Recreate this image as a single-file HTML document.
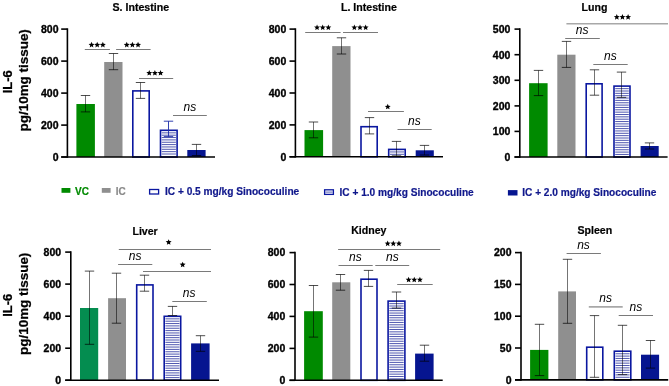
<!DOCTYPE html>
<html><head><meta charset="utf-8"><style>
html,body{margin:0;padding:0;background:#fff;}
body{width:669px;height:386px;overflow:hidden;}
svg{display:block;font-family:"Liberation Sans", sans-serif;will-change:transform;}
</style></head><body>
<svg width="669" height="386" viewBox="0 0 669 386">
<rect x="76.40" y="104.00" width="18.50" height="53.00" fill="#008a00"/>
<rect x="104.20" y="62.00" width="18.30" height="95.00" fill="#8f8f8f"/>
<rect x="132.80" y="90.90" width="16.40" height="66.10" fill="#fff" stroke="#0a17a0" stroke-width="1.6"/>
<rect x="160.50" y="130.30" width="16.60" height="26.70" fill="#fff" stroke="#0a17a0" stroke-width="1.6"/>
<line x1="161.7" y1="132.85" x2="175.9" y2="132.85" stroke="#5058b0" stroke-width="1.0" />
<line x1="161.7" y1="135.2" x2="175.9" y2="135.2" stroke="#5058b0" stroke-width="1.0" />
<line x1="161.7" y1="137.55" x2="175.9" y2="137.55" stroke="#5058b0" stroke-width="1.0" />
<line x1="161.7" y1="139.9" x2="175.9" y2="139.9" stroke="#5058b0" stroke-width="1.0" />
<line x1="161.7" y1="142.25" x2="175.9" y2="142.25" stroke="#5058b0" stroke-width="1.0" />
<line x1="161.7" y1="144.6" x2="175.9" y2="144.6" stroke="#5058b0" stroke-width="1.0" />
<line x1="161.7" y1="146.95" x2="175.9" y2="146.95" stroke="#5058b0" stroke-width="1.0" />
<line x1="161.7" y1="149.3" x2="175.9" y2="149.3" stroke="#5058b0" stroke-width="1.0" />
<line x1="161.7" y1="151.65" x2="175.9" y2="151.65" stroke="#5058b0" stroke-width="1.0" />
<line x1="161.7" y1="154.0" x2="175.9" y2="154.0" stroke="#5058b0" stroke-width="1.0" />
<rect x="187.30" y="150.00" width="18.30" height="7.00" fill="#061590"/>
<line x1="85.5" y1="95.5" x2="85.5" y2="111.9" stroke="#000" stroke-width="0.55" />
<line x1="80.8" y1="95.5" x2="90.2" y2="95.5" stroke="#000" stroke-width="0.7" />
<line x1="80.8" y1="111.9" x2="90.2" y2="111.9" stroke="#000" stroke-width="0.7" />
<line x1="113.5" y1="53.5" x2="113.5" y2="69.7" stroke="#000" stroke-width="0.55" />
<line x1="108.8" y1="53.5" x2="118.2" y2="53.5" stroke="#000" stroke-width="0.7" />
<line x1="108.8" y1="69.7" x2="118.2" y2="69.7" stroke="#000" stroke-width="0.7" />
<line x1="140.5" y1="82.5" x2="140.5" y2="98.4" stroke="#000" stroke-width="0.55" />
<line x1="135.8" y1="82.5" x2="145.2" y2="82.5" stroke="#000" stroke-width="0.7" />
<line x1="135.8" y1="98.4" x2="145.2" y2="98.4" stroke="#000" stroke-width="0.7" />
<line x1="168.5" y1="121.2" x2="168.5" y2="136.6" stroke="#1c2ca8" stroke-width="0.9" />
<line x1="163.8" y1="121.2" x2="173.2" y2="121.2" stroke="#1c2ca8" stroke-width="0.9" />
<line x1="163.8" y1="136.6" x2="173.2" y2="136.6" stroke="#1c2ca8" stroke-width="0.9" />
<line x1="196.5" y1="144.4" x2="196.5" y2="155.5" stroke="#000" stroke-width="0.55" />
<line x1="191.8" y1="144.4" x2="201.2" y2="144.4" stroke="#000" stroke-width="0.7" />
<line x1="191.8" y1="155.5" x2="201.2" y2="155.5" stroke="#000" stroke-width="0.7" />
<line x1="67.4" y1="28.3" x2="67.4" y2="157.8" stroke="#000" stroke-width="1.6" />
<line x1="61.2" y1="157.0" x2="215.0" y2="157.0" stroke="#000" stroke-width="1.6" />
<line x1="61.2" y1="29.1" x2="67.4" y2="29.1" stroke="#000" stroke-width="1.6" />
<text x="58.50000000000001" y="32.9" font-size="10.5" font-weight="bold" font-style="normal" text-anchor="end" fill="#000" stroke="#000" stroke-width="0.35">800</text>
<line x1="61.2" y1="61.1" x2="67.4" y2="61.1" stroke="#000" stroke-width="1.6" />
<text x="58.50000000000001" y="64.9" font-size="10.5" font-weight="bold" font-style="normal" text-anchor="end" fill="#000" stroke="#000" stroke-width="0.35">600</text>
<line x1="61.2" y1="93.1" x2="67.4" y2="93.1" stroke="#000" stroke-width="1.6" />
<text x="58.50000000000001" y="96.89999999999999" font-size="10.5" font-weight="bold" font-style="normal" text-anchor="end" fill="#000" stroke="#000" stroke-width="0.35">400</text>
<line x1="61.2" y1="125.1" x2="67.4" y2="125.1" stroke="#000" stroke-width="1.6" />
<text x="58.50000000000001" y="128.9" font-size="10.5" font-weight="bold" font-style="normal" text-anchor="end" fill="#000" stroke="#000" stroke-width="0.35">200</text>
<line x1="61.2" y1="157.0" x2="67.4" y2="157.0" stroke="#000" stroke-width="1.6" />
<text x="58.50000000000001" y="160.8" font-size="10.5" font-weight="bold" font-style="normal" text-anchor="end" fill="#000" stroke="#000" stroke-width="0.35">0</text>
<line x1="84.8" y1="49.5" x2="109.9" y2="49.5" stroke="#7a7a7a" stroke-width="1" />
<polygon points="91.55,41.85 92.37,43.82 94.50,43.99 92.88,45.38 93.37,47.46 91.55,46.35 89.73,47.46 90.22,45.38 88.60,43.99 90.73,43.82" fill="#000"/>
<polygon points="97.20,41.85 98.02,43.82 100.15,43.99 98.53,45.38 99.02,47.46 97.20,46.35 95.38,47.46 95.87,45.38 94.25,43.99 96.38,43.82" fill="#000"/>
<polygon points="102.85,41.85 103.67,43.82 105.80,43.99 104.18,45.38 104.67,47.46 102.85,46.35 101.03,47.46 101.52,45.38 99.90,43.99 102.03,43.82" fill="#000"/>
<line x1="116.1" y1="49.5" x2="150.6" y2="49.5" stroke="#7a7a7a" stroke-width="1" />
<polygon points="126.75,41.85 127.57,43.82 129.70,43.99 128.08,45.38 128.57,47.46 126.75,46.35 124.93,47.46 125.42,45.38 123.80,43.99 125.93,43.82" fill="#000"/>
<polygon points="132.40,41.85 133.22,43.82 135.35,43.99 133.73,45.38 134.22,47.46 132.40,46.35 130.58,47.46 131.07,45.38 129.45,43.99 131.58,43.82" fill="#000"/>
<polygon points="138.05,41.85 138.87,43.82 141.00,43.99 139.38,45.38 139.87,47.46 138.05,46.35 136.23,47.46 136.72,45.38 135.10,43.99 137.23,43.82" fill="#000"/>
<line x1="139.0" y1="78.5" x2="173.2" y2="78.5" stroke="#7a7a7a" stroke-width="1" />
<polygon points="149.25,69.95 150.07,71.92 152.20,72.09 150.58,73.48 151.07,75.56 149.25,74.45 147.43,75.56 147.92,73.48 146.30,72.09 148.43,71.92" fill="#000"/>
<polygon points="154.90,69.95 155.72,71.92 157.85,72.09 156.23,73.48 156.72,75.56 154.90,74.45 153.08,75.56 153.57,73.48 151.95,72.09 154.08,71.92" fill="#000"/>
<polygon points="160.55,69.95 161.37,71.92 163.50,72.09 161.88,73.48 162.37,75.56 160.55,74.45 158.73,75.56 159.22,73.48 157.60,72.09 159.73,71.92" fill="#000"/>
<line x1="173.0" y1="115.5" x2="206.8" y2="115.5" stroke="#7a7a7a" stroke-width="1" />
<text x="189.8" y="111.2" font-size="12" font-weight="normal" font-style="italic" text-anchor="middle" fill="#000" >ns</text>
<text x="140.8" y="11.2" font-size="10.6" font-weight="bold" font-style="normal" text-anchor="middle" fill="#000" stroke="#000" stroke-width="0.2">S. Intestine</text>
<rect x="304.50" y="130.10" width="18.60" height="26.70" fill="#008a00"/>
<rect x="332.20" y="46.10" width="18.30" height="110.70" fill="#8f8f8f"/>
<rect x="361.00" y="126.70" width="16.20" height="30.10" fill="#fff" stroke="#0a17a0" stroke-width="1.6"/>
<rect x="388.70" y="149.40" width="16.50" height="7.40" fill="#fff" stroke="#0a17a0" stroke-width="1.6"/>
<line x1="389.9" y1="151.95" x2="404.0" y2="151.95" stroke="#5058b0" stroke-width="1.0" />
<line x1="389.9" y1="154.3" x2="404.0" y2="154.3" stroke="#5058b0" stroke-width="1.0" />
<rect x="415.70" y="150.30" width="18.10" height="6.50" fill="#061590"/>
<line x1="313.5" y1="122.0" x2="313.5" y2="137.8" stroke="#000" stroke-width="0.55" />
<line x1="308.8" y1="122.0" x2="318.2" y2="122.0" stroke="#000" stroke-width="0.7" />
<line x1="308.8" y1="137.8" x2="318.2" y2="137.8" stroke="#000" stroke-width="0.7" />
<line x1="341.5" y1="37.8" x2="341.5" y2="54.0" stroke="#000" stroke-width="0.55" />
<line x1="336.8" y1="37.8" x2="346.2" y2="37.8" stroke="#000" stroke-width="0.7" />
<line x1="336.8" y1="54.0" x2="346.2" y2="54.0" stroke="#000" stroke-width="0.7" />
<line x1="369.5" y1="117.6" x2="369.5" y2="133.9" stroke="#000" stroke-width="0.55" />
<line x1="364.8" y1="117.6" x2="374.2" y2="117.6" stroke="#000" stroke-width="0.7" />
<line x1="364.8" y1="133.9" x2="374.2" y2="133.9" stroke="#000" stroke-width="0.7" />
<line x1="396.5" y1="141.4" x2="396.5" y2="155.8" stroke="#000" stroke-width="0.55" />
<line x1="391.8" y1="141.4" x2="401.2" y2="141.4" stroke="#000" stroke-width="0.7" />
<line x1="391.8" y1="155.8" x2="401.2" y2="155.8" stroke="#000" stroke-width="0.7" />
<line x1="424.5" y1="145.4" x2="424.5" y2="155.0" stroke="#000" stroke-width="0.55" />
<line x1="419.8" y1="145.4" x2="429.2" y2="145.4" stroke="#000" stroke-width="0.7" />
<line x1="419.8" y1="155.0" x2="429.2" y2="155.0" stroke="#000" stroke-width="0.7" />
<line x1="295.4" y1="28.3" x2="295.4" y2="157.60000000000002" stroke="#000" stroke-width="1.6" />
<line x1="289.5" y1="156.8" x2="443.0" y2="156.8" stroke="#000" stroke-width="1.6" />
<line x1="289.5" y1="29.1" x2="295.4" y2="29.1" stroke="#000" stroke-width="1.6" />
<text x="286.29999999999995" y="32.9" font-size="10.5" font-weight="bold" font-style="normal" text-anchor="end" fill="#000" stroke="#000" stroke-width="0.35">800</text>
<line x1="289.5" y1="61.1" x2="295.4" y2="61.1" stroke="#000" stroke-width="1.6" />
<text x="286.29999999999995" y="64.9" font-size="10.5" font-weight="bold" font-style="normal" text-anchor="end" fill="#000" stroke="#000" stroke-width="0.35">600</text>
<line x1="289.5" y1="93.0" x2="295.4" y2="93.0" stroke="#000" stroke-width="1.6" />
<text x="286.29999999999995" y="96.8" font-size="10.5" font-weight="bold" font-style="normal" text-anchor="end" fill="#000" stroke="#000" stroke-width="0.35">400</text>
<line x1="289.5" y1="124.9" x2="295.4" y2="124.9" stroke="#000" stroke-width="1.6" />
<text x="286.29999999999995" y="128.70000000000002" font-size="10.5" font-weight="bold" font-style="normal" text-anchor="end" fill="#000" stroke="#000" stroke-width="0.35">200</text>
<line x1="289.5" y1="156.8" x2="295.4" y2="156.8" stroke="#000" stroke-width="1.6" />
<text x="286.29999999999995" y="160.60000000000002" font-size="10.5" font-weight="bold" font-style="normal" text-anchor="end" fill="#000" stroke="#000" stroke-width="0.35">0</text>
<line x1="305.2" y1="32.5" x2="340.6" y2="32.5" stroke="#7a7a7a" stroke-width="1" />
<polygon points="317.05,24.45 317.87,26.42 320.00,26.59 318.38,27.98 318.87,30.06 317.05,28.95 315.23,30.06 315.72,27.98 314.10,26.59 316.23,26.42" fill="#000"/>
<polygon points="322.70,24.45 323.52,26.42 325.65,26.59 324.03,27.98 324.52,30.06 322.70,28.95 320.88,30.06 321.37,27.98 319.75,26.59 321.88,26.42" fill="#000"/>
<polygon points="328.35,24.45 329.17,26.42 331.30,26.59 329.68,27.98 330.17,30.06 328.35,28.95 326.53,30.06 327.02,27.98 325.40,26.59 327.53,26.42" fill="#000"/>
<line x1="343.0" y1="32.5" x2="378.0" y2="32.5" stroke="#7a7a7a" stroke-width="1" />
<polygon points="354.35,24.45 355.17,26.42 357.30,26.59 355.68,27.98 356.17,30.06 354.35,28.95 352.53,30.06 353.02,27.98 351.40,26.59 353.53,26.42" fill="#000"/>
<polygon points="360.00,24.45 360.82,26.42 362.95,26.59 361.33,27.98 361.82,30.06 360.00,28.95 358.18,30.06 358.67,27.98 357.05,26.59 359.18,26.42" fill="#000"/>
<polygon points="365.65,24.45 366.47,26.42 368.60,26.59 366.98,27.98 367.47,30.06 365.65,28.95 363.83,30.06 364.32,27.98 362.70,26.59 364.83,26.42" fill="#000"/>
<line x1="368.0" y1="111.5" x2="403.9" y2="111.5" stroke="#7a7a7a" stroke-width="1" />
<polygon points="387.75,103.75 388.57,105.72 390.70,105.89 389.08,107.28 389.57,109.36 387.75,108.25 385.93,109.36 386.42,107.28 384.80,105.89 386.93,105.72" fill="#000"/>
<line x1="397.5" y1="129.5" x2="431.7" y2="129.5" stroke="#7a7a7a" stroke-width="1" />
<text x="414.3" y="124.8" font-size="12" font-weight="normal" font-style="italic" text-anchor="middle" fill="#000" >ns</text>
<text x="368.9" y="11.0" font-size="10.6" font-weight="bold" font-style="normal" text-anchor="middle" fill="#000" stroke="#000" stroke-width="0.2">L. Intestine</text>
<rect x="529.10" y="83.20" width="18.50" height="73.80" fill="#008a00"/>
<rect x="557.30" y="54.70" width="18.20" height="102.30" fill="#8f8f8f"/>
<rect x="586.20" y="83.80" width="15.90" height="73.20" fill="#fff" stroke="#0a17a0" stroke-width="1.6"/>
<rect x="614.00" y="86.10" width="16.00" height="70.90" fill="#fff" stroke="#0a17a0" stroke-width="1.6"/>
<line x1="615.2" y1="88.65" x2="628.8" y2="88.65" stroke="#5058b0" stroke-width="1.0" />
<line x1="615.2" y1="91.0" x2="628.8" y2="91.0" stroke="#5058b0" stroke-width="1.0" />
<line x1="615.2" y1="93.35" x2="628.8" y2="93.35" stroke="#5058b0" stroke-width="1.0" />
<line x1="615.2" y1="95.7" x2="628.8" y2="95.7" stroke="#5058b0" stroke-width="1.0" />
<line x1="615.2" y1="98.05" x2="628.8" y2="98.05" stroke="#5058b0" stroke-width="1.0" />
<line x1="615.2" y1="100.4" x2="628.8" y2="100.4" stroke="#5058b0" stroke-width="1.0" />
<line x1="615.2" y1="102.75" x2="628.8" y2="102.75" stroke="#5058b0" stroke-width="1.0" />
<line x1="615.2" y1="105.1" x2="628.8" y2="105.1" stroke="#5058b0" stroke-width="1.0" />
<line x1="615.2" y1="107.45" x2="628.8" y2="107.45" stroke="#5058b0" stroke-width="1.0" />
<line x1="615.2" y1="109.8" x2="628.8" y2="109.8" stroke="#5058b0" stroke-width="1.0" />
<line x1="615.2" y1="112.15" x2="628.8" y2="112.15" stroke="#5058b0" stroke-width="1.0" />
<line x1="615.2" y1="114.5" x2="628.8" y2="114.5" stroke="#5058b0" stroke-width="1.0" />
<line x1="615.2" y1="116.85" x2="628.8" y2="116.85" stroke="#5058b0" stroke-width="1.0" />
<line x1="615.2" y1="119.2" x2="628.8" y2="119.2" stroke="#5058b0" stroke-width="1.0" />
<line x1="615.2" y1="121.55" x2="628.8" y2="121.55" stroke="#5058b0" stroke-width="1.0" />
<line x1="615.2" y1="123.9" x2="628.8" y2="123.9" stroke="#5058b0" stroke-width="1.0" />
<line x1="615.2" y1="126.25" x2="628.8" y2="126.25" stroke="#5058b0" stroke-width="1.0" />
<line x1="615.2" y1="128.6" x2="628.8" y2="128.6" stroke="#5058b0" stroke-width="1.0" />
<line x1="615.2" y1="130.95" x2="628.8" y2="130.95" stroke="#5058b0" stroke-width="1.0" />
<line x1="615.2" y1="133.3" x2="628.8" y2="133.3" stroke="#5058b0" stroke-width="1.0" />
<line x1="615.2" y1="135.65" x2="628.8" y2="135.65" stroke="#5058b0" stroke-width="1.0" />
<line x1="615.2" y1="138.0" x2="628.8" y2="138.0" stroke="#5058b0" stroke-width="1.0" />
<line x1="615.2" y1="140.35" x2="628.8" y2="140.35" stroke="#5058b0" stroke-width="1.0" />
<line x1="615.2" y1="142.7" x2="628.8" y2="142.7" stroke="#5058b0" stroke-width="1.0" />
<line x1="615.2" y1="145.05" x2="628.8" y2="145.05" stroke="#5058b0" stroke-width="1.0" />
<line x1="615.2" y1="147.4" x2="628.8" y2="147.4" stroke="#5058b0" stroke-width="1.0" />
<line x1="615.2" y1="149.75" x2="628.8" y2="149.75" stroke="#5058b0" stroke-width="1.0" />
<line x1="615.2" y1="152.1" x2="628.8" y2="152.1" stroke="#5058b0" stroke-width="1.0" />
<line x1="615.2" y1="154.45" x2="628.8" y2="154.45" stroke="#5058b0" stroke-width="1.0" />
<rect x="640.60" y="146.00" width="18.10" height="11.00" fill="#061590"/>
<line x1="538.5" y1="70.4" x2="538.5" y2="95.6" stroke="#000" stroke-width="0.55" />
<line x1="533.8" y1="70.4" x2="543.2" y2="70.4" stroke="#000" stroke-width="0.7" />
<line x1="533.8" y1="95.6" x2="543.2" y2="95.6" stroke="#000" stroke-width="0.7" />
<line x1="566.5" y1="41.4" x2="566.5" y2="67.4" stroke="#000" stroke-width="0.55" />
<line x1="561.8" y1="41.4" x2="571.2" y2="41.4" stroke="#000" stroke-width="0.7" />
<line x1="561.8" y1="67.4" x2="571.2" y2="67.4" stroke="#000" stroke-width="0.7" />
<line x1="594.5" y1="69.8" x2="594.5" y2="95.2" stroke="#000" stroke-width="0.55" />
<line x1="589.8" y1="69.8" x2="599.2" y2="69.8" stroke="#000" stroke-width="0.7" />
<line x1="589.8" y1="95.2" x2="599.2" y2="95.2" stroke="#000" stroke-width="0.7" />
<line x1="621.5" y1="72.1" x2="621.5" y2="97.4" stroke="#000" stroke-width="0.55" />
<line x1="616.8" y1="72.1" x2="626.2" y2="72.1" stroke="#000" stroke-width="0.7" />
<line x1="616.8" y1="97.4" x2="626.2" y2="97.4" stroke="#000" stroke-width="0.7" />
<line x1="649.5" y1="142.9" x2="649.5" y2="149.0" stroke="#000" stroke-width="0.55" />
<line x1="644.8" y1="142.9" x2="654.2" y2="142.9" stroke="#000" stroke-width="0.7" />
<line x1="644.8" y1="149.0" x2="654.2" y2="149.0" stroke="#000" stroke-width="0.7" />
<line x1="519.8" y1="28.3" x2="519.8" y2="157.8" stroke="#000" stroke-width="1.6" />
<line x1="514.5" y1="157.0" x2="667.6" y2="157.0" stroke="#000" stroke-width="1.6" />
<line x1="514.5" y1="29.1" x2="519.8" y2="29.1" stroke="#000" stroke-width="1.6" />
<text x="510.4" y="32.9" font-size="10.5" font-weight="bold" font-style="normal" text-anchor="end" fill="#000" stroke="#000" stroke-width="0.35">500</text>
<line x1="514.5" y1="54.7" x2="519.8" y2="54.7" stroke="#000" stroke-width="1.6" />
<text x="510.4" y="58.5" font-size="10.5" font-weight="bold" font-style="normal" text-anchor="end" fill="#000" stroke="#000" stroke-width="0.35">400</text>
<line x1="514.5" y1="80.3" x2="519.8" y2="80.3" stroke="#000" stroke-width="1.6" />
<text x="510.4" y="84.1" font-size="10.5" font-weight="bold" font-style="normal" text-anchor="end" fill="#000" stroke="#000" stroke-width="0.35">300</text>
<line x1="514.5" y1="105.9" x2="519.8" y2="105.9" stroke="#000" stroke-width="1.6" />
<text x="510.4" y="109.7" font-size="10.5" font-weight="bold" font-style="normal" text-anchor="end" fill="#000" stroke="#000" stroke-width="0.35">200</text>
<line x1="514.5" y1="131.4" x2="519.8" y2="131.4" stroke="#000" stroke-width="1.6" />
<text x="510.4" y="135.20000000000002" font-size="10.5" font-weight="bold" font-style="normal" text-anchor="end" fill="#000" stroke="#000" stroke-width="0.35">100</text>
<line x1="514.5" y1="157.0" x2="519.8" y2="157.0" stroke="#000" stroke-width="1.6" />
<text x="510.4" y="160.8" font-size="10.5" font-weight="bold" font-style="normal" text-anchor="end" fill="#000" stroke="#000" stroke-width="0.35">0</text>
<line x1="566.4" y1="23.8" x2="668.0" y2="23.8" stroke="#a8a8a8" stroke-width="1.6" />
<polygon points="616.80,14.05 617.62,16.02 619.75,16.19 618.13,17.58 618.62,19.66 616.80,18.55 614.98,19.66 615.47,17.58 613.85,16.19 615.98,16.02" fill="#000"/>
<polygon points="622.45,14.05 623.27,16.02 625.40,16.19 623.78,17.58 624.27,19.66 622.45,18.55 620.63,19.66 621.12,17.58 619.50,16.19 621.63,16.02" fill="#000"/>
<polygon points="628.10,14.05 628.92,16.02 631.05,16.19 629.43,17.58 629.92,19.66 628.10,18.55 626.28,19.66 626.77,17.58 625.15,16.19 627.28,16.02" fill="#000"/>
<line x1="565.2" y1="38.5" x2="599.8" y2="38.5" stroke="#7a7a7a" stroke-width="1" />
<text x="582.1" y="34.4" font-size="12" font-weight="normal" font-style="italic" text-anchor="middle" fill="#000" >ns</text>
<line x1="593.3" y1="64.5" x2="627.7" y2="64.5" stroke="#7a7a7a" stroke-width="1" />
<text x="610.3" y="60.1" font-size="12" font-weight="normal" font-style="italic" text-anchor="middle" fill="#000" >ns</text>
<text x="594.5" y="10.9" font-size="10.6" font-weight="bold" font-style="normal" text-anchor="middle" fill="#000" stroke="#000" stroke-width="0.2">Lung</text>
<rect x="80.00" y="308.00" width="18.20" height="72.20" fill="#048d50"/>
<rect x="108.10" y="298.20" width="17.90" height="82.00" fill="#8f8f8f"/>
<rect x="136.70" y="284.90" width="16.30" height="95.30" fill="#fff" stroke="#0a17a0" stroke-width="1.6"/>
<rect x="164.20" y="316.30" width="16.50" height="63.90" fill="#fff" stroke="#0a17a0" stroke-width="1.6"/>
<line x1="165.4" y1="318.85" x2="179.5" y2="318.85" stroke="#5058b0" stroke-width="1.0" />
<line x1="165.4" y1="321.2" x2="179.5" y2="321.2" stroke="#5058b0" stroke-width="1.0" />
<line x1="165.4" y1="323.55" x2="179.5" y2="323.55" stroke="#5058b0" stroke-width="1.0" />
<line x1="165.4" y1="325.9" x2="179.5" y2="325.9" stroke="#5058b0" stroke-width="1.0" />
<line x1="165.4" y1="328.25" x2="179.5" y2="328.25" stroke="#5058b0" stroke-width="1.0" />
<line x1="165.4" y1="330.6" x2="179.5" y2="330.6" stroke="#5058b0" stroke-width="1.0" />
<line x1="165.4" y1="332.95" x2="179.5" y2="332.95" stroke="#5058b0" stroke-width="1.0" />
<line x1="165.4" y1="335.3" x2="179.5" y2="335.3" stroke="#5058b0" stroke-width="1.0" />
<line x1="165.4" y1="337.65" x2="179.5" y2="337.65" stroke="#5058b0" stroke-width="1.0" />
<line x1="165.4" y1="340.0" x2="179.5" y2="340.0" stroke="#5058b0" stroke-width="1.0" />
<line x1="165.4" y1="342.35" x2="179.5" y2="342.35" stroke="#5058b0" stroke-width="1.0" />
<line x1="165.4" y1="344.7" x2="179.5" y2="344.7" stroke="#5058b0" stroke-width="1.0" />
<line x1="165.4" y1="347.05" x2="179.5" y2="347.05" stroke="#5058b0" stroke-width="1.0" />
<line x1="165.4" y1="349.4" x2="179.5" y2="349.4" stroke="#5058b0" stroke-width="1.0" />
<line x1="165.4" y1="351.75" x2="179.5" y2="351.75" stroke="#5058b0" stroke-width="1.0" />
<line x1="165.4" y1="354.1" x2="179.5" y2="354.1" stroke="#5058b0" stroke-width="1.0" />
<line x1="165.4" y1="356.45" x2="179.5" y2="356.45" stroke="#5058b0" stroke-width="1.0" />
<line x1="165.4" y1="358.8" x2="179.5" y2="358.8" stroke="#5058b0" stroke-width="1.0" />
<line x1="165.4" y1="361.15" x2="179.5" y2="361.15" stroke="#5058b0" stroke-width="1.0" />
<line x1="165.4" y1="363.5" x2="179.5" y2="363.5" stroke="#5058b0" stroke-width="1.0" />
<line x1="165.4" y1="365.85" x2="179.5" y2="365.85" stroke="#5058b0" stroke-width="1.0" />
<line x1="165.4" y1="368.2" x2="179.5" y2="368.2" stroke="#5058b0" stroke-width="1.0" />
<line x1="165.4" y1="370.55" x2="179.5" y2="370.55" stroke="#5058b0" stroke-width="1.0" />
<line x1="165.4" y1="372.9" x2="179.5" y2="372.9" stroke="#5058b0" stroke-width="1.0" />
<line x1="165.4" y1="375.25" x2="179.5" y2="375.25" stroke="#5058b0" stroke-width="1.0" />
<line x1="165.4" y1="377.6" x2="179.5" y2="377.6" stroke="#5058b0" stroke-width="1.0" />
<rect x="191.10" y="343.40" width="18.50" height="36.80" fill="#061590"/>
<line x1="89.5" y1="271.1" x2="89.5" y2="344.3" stroke="#000" stroke-width="0.55" />
<line x1="84.8" y1="271.1" x2="94.2" y2="271.1" stroke="#000" stroke-width="0.7" />
<line x1="84.8" y1="344.3" x2="94.2" y2="344.3" stroke="#000" stroke-width="0.7" />
<line x1="116.5" y1="273.2" x2="116.5" y2="323.2" stroke="#000" stroke-width="0.55" />
<line x1="111.8" y1="273.2" x2="121.2" y2="273.2" stroke="#000" stroke-width="0.7" />
<line x1="111.8" y1="323.2" x2="121.2" y2="323.2" stroke="#000" stroke-width="0.7" />
<line x1="144.5" y1="275.2" x2="144.5" y2="291.2" stroke="#000" stroke-width="0.55" />
<line x1="139.8" y1="275.2" x2="149.2" y2="275.2" stroke="#000" stroke-width="0.7" />
<line x1="139.8" y1="291.2" x2="149.2" y2="291.2" stroke="#000" stroke-width="0.7" />
<line x1="172.5" y1="306.4" x2="172.5" y2="315.5" stroke="#000" stroke-width="0.55" />
<line x1="167.8" y1="306.4" x2="177.2" y2="306.4" stroke="#000" stroke-width="0.7" />
<line x1="167.8" y1="315.5" x2="177.2" y2="315.5" stroke="#000" stroke-width="0.7" />
<line x1="200.5" y1="335.7" x2="200.5" y2="351.3" stroke="#000" stroke-width="0.55" />
<line x1="195.8" y1="335.7" x2="205.2" y2="335.7" stroke="#000" stroke-width="0.7" />
<line x1="195.8" y1="351.3" x2="205.2" y2="351.3" stroke="#000" stroke-width="0.7" />
<line x1="70.8" y1="251.3" x2="70.8" y2="381.0" stroke="#000" stroke-width="1.6" />
<line x1="65.2" y1="380.2" x2="219.0" y2="380.2" stroke="#000" stroke-width="1.6" />
<line x1="65.2" y1="252.1" x2="70.8" y2="252.1" stroke="#000" stroke-width="1.6" />
<text x="61.099999999999994" y="255.9" font-size="10.5" font-weight="bold" font-style="normal" text-anchor="end" fill="#000" stroke="#000" stroke-width="0.35">800</text>
<line x1="65.2" y1="284.1" x2="70.8" y2="284.1" stroke="#000" stroke-width="1.6" />
<text x="61.099999999999994" y="287.90000000000003" font-size="10.5" font-weight="bold" font-style="normal" text-anchor="end" fill="#000" stroke="#000" stroke-width="0.35">600</text>
<line x1="65.2" y1="316.2" x2="70.8" y2="316.2" stroke="#000" stroke-width="1.6" />
<text x="61.099999999999994" y="320.0" font-size="10.5" font-weight="bold" font-style="normal" text-anchor="end" fill="#000" stroke="#000" stroke-width="0.35">400</text>
<line x1="65.2" y1="348.2" x2="70.8" y2="348.2" stroke="#000" stroke-width="1.6" />
<text x="61.099999999999994" y="352.0" font-size="10.5" font-weight="bold" font-style="normal" text-anchor="end" fill="#000" stroke="#000" stroke-width="0.35">200</text>
<line x1="65.2" y1="380.2" x2="70.8" y2="380.2" stroke="#000" stroke-width="1.6" />
<text x="61.099999999999994" y="384.0" font-size="10.5" font-weight="bold" font-style="normal" text-anchor="end" fill="#000" stroke="#000" stroke-width="0.35">0</text>
<line x1="118.8" y1="249.5" x2="211.0" y2="249.5" stroke="#7a7a7a" stroke-width="1" />
<polygon points="168.65,239.15 169.47,241.12 171.60,241.29 169.98,242.68 170.47,244.76 168.65,243.65 166.83,244.76 167.32,242.68 165.70,241.29 167.83,241.12" fill="#000"/>
<line x1="118.1" y1="264.5" x2="152.3" y2="264.5" stroke="#7a7a7a" stroke-width="1" />
<text x="135.2" y="260.4" font-size="12" font-weight="normal" font-style="italic" text-anchor="middle" fill="#000" >ns</text>
<line x1="143.0" y1="271.5" x2="211.0" y2="271.5" stroke="#7a7a7a" stroke-width="1" />
<polygon points="182.65,261.65 183.47,263.62 185.60,263.79 183.98,265.18 184.47,267.26 182.65,266.15 180.83,267.26 181.32,265.18 179.70,263.79 181.83,263.62" fill="#000"/>
<line x1="172.3" y1="301.5" x2="206.8" y2="301.5" stroke="#7a7a7a" stroke-width="1" />
<text x="189.1" y="296.9" font-size="12" font-weight="normal" font-style="italic" text-anchor="middle" fill="#000" >ns</text>
<text x="145.1" y="234.5" font-size="10.6" font-weight="bold" font-style="normal" text-anchor="middle" fill="#000" stroke="#000" stroke-width="0.2">Liver</text>
<rect x="304.10" y="311.20" width="18.70" height="69.10" fill="#008a00"/>
<rect x="332.20" y="282.30" width="18.10" height="98.00" fill="#8f8f8f"/>
<rect x="361.00" y="279.20" width="16.00" height="101.10" fill="#fff" stroke="#0a17a0" stroke-width="1.6"/>
<rect x="388.10" y="301.10" width="16.80" height="79.20" fill="#fff" stroke="#0a17a0" stroke-width="1.6"/>
<line x1="389.3" y1="303.65" x2="403.7" y2="303.65" stroke="#5058b0" stroke-width="1.0" />
<line x1="389.3" y1="306.0" x2="403.7" y2="306.0" stroke="#5058b0" stroke-width="1.0" />
<line x1="389.3" y1="308.35" x2="403.7" y2="308.35" stroke="#5058b0" stroke-width="1.0" />
<line x1="389.3" y1="310.7" x2="403.7" y2="310.7" stroke="#5058b0" stroke-width="1.0" />
<line x1="389.3" y1="313.05" x2="403.7" y2="313.05" stroke="#5058b0" stroke-width="1.0" />
<line x1="389.3" y1="315.4" x2="403.7" y2="315.4" stroke="#5058b0" stroke-width="1.0" />
<line x1="389.3" y1="317.75" x2="403.7" y2="317.75" stroke="#5058b0" stroke-width="1.0" />
<line x1="389.3" y1="320.1" x2="403.7" y2="320.1" stroke="#5058b0" stroke-width="1.0" />
<line x1="389.3" y1="322.45" x2="403.7" y2="322.45" stroke="#5058b0" stroke-width="1.0" />
<line x1="389.3" y1="324.8" x2="403.7" y2="324.8" stroke="#5058b0" stroke-width="1.0" />
<line x1="389.3" y1="327.15" x2="403.7" y2="327.15" stroke="#5058b0" stroke-width="1.0" />
<line x1="389.3" y1="329.5" x2="403.7" y2="329.5" stroke="#5058b0" stroke-width="1.0" />
<line x1="389.3" y1="331.85" x2="403.7" y2="331.85" stroke="#5058b0" stroke-width="1.0" />
<line x1="389.3" y1="334.2" x2="403.7" y2="334.2" stroke="#5058b0" stroke-width="1.0" />
<line x1="389.3" y1="336.55" x2="403.7" y2="336.55" stroke="#5058b0" stroke-width="1.0" />
<line x1="389.3" y1="338.9" x2="403.7" y2="338.9" stroke="#5058b0" stroke-width="1.0" />
<line x1="389.3" y1="341.25" x2="403.7" y2="341.25" stroke="#5058b0" stroke-width="1.0" />
<line x1="389.3" y1="343.6" x2="403.7" y2="343.6" stroke="#5058b0" stroke-width="1.0" />
<line x1="389.3" y1="345.95" x2="403.7" y2="345.95" stroke="#5058b0" stroke-width="1.0" />
<line x1="389.3" y1="348.3" x2="403.7" y2="348.3" stroke="#5058b0" stroke-width="1.0" />
<line x1="389.3" y1="350.65" x2="403.7" y2="350.65" stroke="#5058b0" stroke-width="1.0" />
<line x1="389.3" y1="353.0" x2="403.7" y2="353.0" stroke="#5058b0" stroke-width="1.0" />
<line x1="389.3" y1="355.35" x2="403.7" y2="355.35" stroke="#5058b0" stroke-width="1.0" />
<line x1="389.3" y1="357.7" x2="403.7" y2="357.7" stroke="#5058b0" stroke-width="1.0" />
<line x1="389.3" y1="360.05" x2="403.7" y2="360.05" stroke="#5058b0" stroke-width="1.0" />
<line x1="389.3" y1="362.4" x2="403.7" y2="362.4" stroke="#5058b0" stroke-width="1.0" />
<line x1="389.3" y1="364.75" x2="403.7" y2="364.75" stroke="#5058b0" stroke-width="1.0" />
<line x1="389.3" y1="367.1" x2="403.7" y2="367.1" stroke="#5058b0" stroke-width="1.0" />
<line x1="389.3" y1="369.45" x2="403.7" y2="369.45" stroke="#5058b0" stroke-width="1.0" />
<line x1="389.3" y1="371.8" x2="403.7" y2="371.8" stroke="#5058b0" stroke-width="1.0" />
<line x1="389.3" y1="374.15" x2="403.7" y2="374.15" stroke="#5058b0" stroke-width="1.0" />
<line x1="389.3" y1="376.5" x2="403.7" y2="376.5" stroke="#5058b0" stroke-width="1.0" />
<line x1="389.3" y1="378.85" x2="403.7" y2="378.85" stroke="#5058b0" stroke-width="1.0" />
<rect x="415.10" y="353.60" width="18.50" height="26.70" fill="#061590"/>
<line x1="313.5" y1="285.5" x2="313.5" y2="337.1" stroke="#000" stroke-width="0.55" />
<line x1="308.8" y1="285.5" x2="318.2" y2="285.5" stroke="#000" stroke-width="0.7" />
<line x1="308.8" y1="337.1" x2="318.2" y2="337.1" stroke="#000" stroke-width="0.7" />
<line x1="340.5" y1="274.5" x2="340.5" y2="290.2" stroke="#000" stroke-width="0.55" />
<line x1="335.8" y1="274.5" x2="345.2" y2="274.5" stroke="#000" stroke-width="0.7" />
<line x1="335.8" y1="290.2" x2="345.2" y2="290.2" stroke="#000" stroke-width="0.7" />
<line x1="368.5" y1="270.4" x2="368.5" y2="286.4" stroke="#000" stroke-width="0.55" />
<line x1="363.8" y1="270.4" x2="373.2" y2="270.4" stroke="#000" stroke-width="0.7" />
<line x1="363.8" y1="286.4" x2="373.2" y2="286.4" stroke="#000" stroke-width="0.7" />
<line x1="396.5" y1="292.0" x2="396.5" y2="308.1" stroke="#000" stroke-width="0.55" />
<line x1="391.8" y1="292.0" x2="401.2" y2="292.0" stroke="#000" stroke-width="0.7" />
<line x1="391.8" y1="308.1" x2="401.2" y2="308.1" stroke="#000" stroke-width="0.7" />
<line x1="424.5" y1="345.2" x2="424.5" y2="361.2" stroke="#000" stroke-width="0.55" />
<line x1="419.8" y1="345.2" x2="429.2" y2="345.2" stroke="#000" stroke-width="0.7" />
<line x1="419.8" y1="361.2" x2="429.2" y2="361.2" stroke="#000" stroke-width="0.7" />
<line x1="295.0" y1="251.8" x2="295.0" y2="381.1" stroke="#000" stroke-width="1.6" />
<line x1="289.5" y1="380.3" x2="442.7" y2="380.3" stroke="#000" stroke-width="1.6" />
<line x1="289.5" y1="252.6" x2="295.0" y2="252.6" stroke="#000" stroke-width="1.6" />
<text x="285.3" y="256.4" font-size="10.5" font-weight="bold" font-style="normal" text-anchor="end" fill="#000" stroke="#000" stroke-width="0.35">800</text>
<line x1="289.5" y1="284.5" x2="295.0" y2="284.5" stroke="#000" stroke-width="1.6" />
<text x="285.3" y="288.3" font-size="10.5" font-weight="bold" font-style="normal" text-anchor="end" fill="#000" stroke="#000" stroke-width="0.35">600</text>
<line x1="289.5" y1="316.4" x2="295.0" y2="316.4" stroke="#000" stroke-width="1.6" />
<text x="285.3" y="320.2" font-size="10.5" font-weight="bold" font-style="normal" text-anchor="end" fill="#000" stroke="#000" stroke-width="0.35">400</text>
<line x1="289.5" y1="348.4" x2="295.0" y2="348.4" stroke="#000" stroke-width="1.6" />
<text x="285.3" y="352.2" font-size="10.5" font-weight="bold" font-style="normal" text-anchor="end" fill="#000" stroke="#000" stroke-width="0.35">200</text>
<line x1="289.5" y1="380.3" x2="295.0" y2="380.3" stroke="#000" stroke-width="1.6" />
<text x="285.3" y="384.1" font-size="10.5" font-weight="bold" font-style="normal" text-anchor="end" fill="#000" stroke="#000" stroke-width="0.35">0</text>
<line x1="338.1" y1="249.5" x2="440.2" y2="249.5" stroke="#7a7a7a" stroke-width="1" />
<polygon points="387.65,240.55 388.47,242.52 390.60,242.69 388.98,244.08 389.47,246.16 387.65,245.05 385.83,246.16 386.32,244.08 384.70,242.69 386.83,242.52" fill="#000"/>
<polygon points="393.30,240.55 394.12,242.52 396.25,242.69 394.63,244.08 395.12,246.16 393.30,245.05 391.48,246.16 391.97,244.08 390.35,242.69 392.48,242.52" fill="#000"/>
<polygon points="398.95,240.55 399.77,242.52 401.90,242.69 400.28,244.08 400.77,246.16 398.95,245.05 397.13,246.16 397.62,244.08 396.00,242.69 398.13,242.52" fill="#000"/>
<line x1="338.5" y1="265.5" x2="372.7" y2="265.5" stroke="#7a7a7a" stroke-width="1" />
<text x="355.3" y="260.7" font-size="12" font-weight="normal" font-style="italic" text-anchor="middle" fill="#000" >ns</text>
<line x1="375.3" y1="265.5" x2="409.2" y2="265.5" stroke="#7a7a7a" stroke-width="1" />
<text x="392.4" y="261.1" font-size="12" font-weight="normal" font-style="italic" text-anchor="middle" fill="#000" >ns</text>
<line x1="397.2" y1="284.5" x2="432.7" y2="284.5" stroke="#7a7a7a" stroke-width="1" />
<polygon points="408.60,276.70 409.42,278.67 411.55,278.84 409.93,280.23 410.42,282.31 408.60,281.20 406.78,282.31 407.27,280.23 405.65,278.84 407.78,278.67" fill="#000"/>
<polygon points="414.25,276.70 415.07,278.67 417.20,278.84 415.58,280.23 416.07,282.31 414.25,281.20 412.43,282.31 412.92,280.23 411.30,278.84 413.43,278.67" fill="#000"/>
<polygon points="419.90,276.70 420.72,278.67 422.85,278.84 421.23,280.23 421.72,282.31 419.90,281.20 418.08,282.31 418.57,280.23 416.95,278.84 419.08,278.67" fill="#000"/>
<text x="368.8" y="234.0" font-size="10.6" font-weight="bold" font-style="normal" text-anchor="middle" fill="#000" stroke="#000" stroke-width="0.2">Kidney</text>
<rect x="530.10" y="349.90" width="18.30" height="30.00" fill="#008a00"/>
<rect x="558.20" y="291.40" width="17.80" height="88.50" fill="#8f8f8f"/>
<rect x="586.70" y="347.20" width="16.10" height="32.70" fill="#fff" stroke="#0a17a0" stroke-width="1.6"/>
<rect x="614.30" y="351.20" width="16.50" height="28.70" fill="#fff" stroke="#0a17a0" stroke-width="1.6"/>
<line x1="615.5" y1="353.75" x2="629.6" y2="353.75" stroke="#5058b0" stroke-width="1.0" />
<line x1="615.5" y1="356.1" x2="629.6" y2="356.1" stroke="#5058b0" stroke-width="1.0" />
<line x1="615.5" y1="358.45" x2="629.6" y2="358.45" stroke="#5058b0" stroke-width="1.0" />
<line x1="615.5" y1="360.8" x2="629.6" y2="360.8" stroke="#5058b0" stroke-width="1.0" />
<line x1="615.5" y1="363.15" x2="629.6" y2="363.15" stroke="#5058b0" stroke-width="1.0" />
<line x1="615.5" y1="365.5" x2="629.6" y2="365.5" stroke="#5058b0" stroke-width="1.0" />
<line x1="615.5" y1="367.85" x2="629.6" y2="367.85" stroke="#5058b0" stroke-width="1.0" />
<line x1="615.5" y1="370.2" x2="629.6" y2="370.2" stroke="#5058b0" stroke-width="1.0" />
<line x1="615.5" y1="372.55" x2="629.6" y2="372.55" stroke="#5058b0" stroke-width="1.0" />
<line x1="615.5" y1="374.9" x2="629.6" y2="374.9" stroke="#5058b0" stroke-width="1.0" />
<line x1="615.5" y1="377.25" x2="629.6" y2="377.25" stroke="#5058b0" stroke-width="1.0" />
<rect x="641.00" y="354.70" width="18.10" height="25.20" fill="#061590"/>
<line x1="539.5" y1="324.3" x2="539.5" y2="375.6" stroke="#000" stroke-width="0.55" />
<line x1="534.8" y1="324.3" x2="544.2" y2="324.3" stroke="#000" stroke-width="0.7" />
<line x1="534.8" y1="375.6" x2="544.2" y2="375.6" stroke="#000" stroke-width="0.7" />
<line x1="567.5" y1="259.3" x2="567.5" y2="323.3" stroke="#000" stroke-width="0.55" />
<line x1="562.8" y1="259.3" x2="572.2" y2="259.3" stroke="#000" stroke-width="0.7" />
<line x1="562.8" y1="323.3" x2="572.2" y2="323.3" stroke="#000" stroke-width="0.7" />
<line x1="594.5" y1="315.6" x2="594.5" y2="377.3" stroke="#000" stroke-width="0.55" />
<line x1="589.8" y1="315.6" x2="599.2" y2="315.6" stroke="#000" stroke-width="0.7" />
<line x1="589.8" y1="377.3" x2="599.2" y2="377.3" stroke="#000" stroke-width="0.7" />
<line x1="622.5" y1="325.3" x2="622.5" y2="374.6" stroke="#000" stroke-width="0.55" />
<line x1="617.8" y1="325.3" x2="627.2" y2="325.3" stroke="#000" stroke-width="0.7" />
<line x1="617.8" y1="374.6" x2="627.2" y2="374.6" stroke="#000" stroke-width="0.7" />
<line x1="650.5" y1="340.5" x2="650.5" y2="368.1" stroke="#000" stroke-width="0.55" />
<line x1="645.8" y1="340.5" x2="655.2" y2="340.5" stroke="#000" stroke-width="0.7" />
<line x1="645.8" y1="368.1" x2="655.2" y2="368.1" stroke="#000" stroke-width="0.7" />
<line x1="521.0" y1="251.8" x2="521.0" y2="380.7" stroke="#000" stroke-width="1.6" />
<line x1="515.0" y1="379.9" x2="668.2" y2="379.9" stroke="#000" stroke-width="1.6" />
<line x1="515.0" y1="252.6" x2="521.0" y2="252.6" stroke="#000" stroke-width="1.6" />
<text x="511.5" y="256.4" font-size="10.5" font-weight="bold" font-style="normal" text-anchor="end" fill="#000" stroke="#000" stroke-width="0.35">200</text>
<line x1="515.0" y1="284.4" x2="521.0" y2="284.4" stroke="#000" stroke-width="1.6" />
<text x="511.5" y="288.2" font-size="10.5" font-weight="bold" font-style="normal" text-anchor="end" fill="#000" stroke="#000" stroke-width="0.35">150</text>
<line x1="515.0" y1="316.2" x2="521.0" y2="316.2" stroke="#000" stroke-width="1.6" />
<text x="511.5" y="320.0" font-size="10.5" font-weight="bold" font-style="normal" text-anchor="end" fill="#000" stroke="#000" stroke-width="0.35">100</text>
<line x1="515.0" y1="348.0" x2="521.0" y2="348.0" stroke="#000" stroke-width="1.6" />
<text x="511.5" y="351.8" font-size="10.5" font-weight="bold" font-style="normal" text-anchor="end" fill="#000" stroke="#000" stroke-width="0.35">50</text>
<line x1="515.0" y1="379.9" x2="521.0" y2="379.9" stroke="#000" stroke-width="1.6" />
<text x="511.5" y="383.7" font-size="10.5" font-weight="bold" font-style="normal" text-anchor="end" fill="#000" stroke="#000" stroke-width="0.35">0</text>
<line x1="566.6" y1="253.5" x2="600.9" y2="253.5" stroke="#7a7a7a" stroke-width="1" />
<text x="583.5" y="249.0" font-size="12" font-weight="normal" font-style="italic" text-anchor="middle" fill="#000" >ns</text>
<line x1="588.8" y1="306.9" x2="622.7" y2="306.9" stroke="#a8a8a8" stroke-width="1.6" />
<text x="605.7" y="302.3" font-size="12" font-weight="normal" font-style="italic" text-anchor="middle" fill="#000" >ns</text>
<line x1="618.7" y1="315.5" x2="653.0" y2="315.5" stroke="#7a7a7a" stroke-width="1" />
<text x="635.9" y="310.9" font-size="12" font-weight="normal" font-style="italic" text-anchor="middle" fill="#000" >ns</text>
<text x="594.8" y="234.0" font-size="10.6" font-weight="bold" font-style="normal" text-anchor="middle" fill="#000" stroke="#000" stroke-width="0.2">Spleen</text>
<text transform="translate(12.0,81.8) rotate(-90)" font-size="13" font-weight="bold" text-anchor="middle" fill="#000" stroke="#000" stroke-width="0.25">IL-6</text>
<text transform="translate(28.3,80.3) rotate(-90)" font-size="13.45" font-weight="bold" text-anchor="middle" fill="#000" stroke="#000" stroke-width="0.25">pg/10mg tissue)</text>
<text transform="translate(12.0,305.3) rotate(-90)" font-size="13" font-weight="bold" text-anchor="middle" fill="#000" stroke="#000" stroke-width="0.25">IL-6</text>
<text transform="translate(28.3,303.8) rotate(-90)" font-size="13.45" font-weight="bold" text-anchor="middle" fill="#000" stroke="#000" stroke-width="0.25">pg/10mg tissue)</text>
<rect x="61.50" y="188.00" width="8.90" height="4.80" fill="#008a00"/>
<text x="75.0" y="195.1" font-size="10" font-weight="bold" font-style="normal" text-anchor="start" fill="#008a00" stroke="#008a00" stroke-width="0.2">VC</text>
<rect x="101.80" y="188.00" width="8.80" height="4.80" fill="#8f8f8f"/>
<text x="115.8" y="195.1" font-size="10" font-weight="bold" font-style="normal" text-anchor="start" fill="#8a8a8a" stroke="#8a8a8a" stroke-width="0.2">IC</text>
<rect x="149.60" y="189.50" width="9.00" height="4.50" fill="#fff" stroke="#0a17a0" stroke-width="1.3"/>
<text x="165.0" y="195.0" font-size="10.15" font-weight="bold" font-style="normal" text-anchor="start" fill="#10188c" stroke="#10188c" stroke-width="0.2">IC + 0.5 mg/kg Sinococuline</text>
<rect x="324.60" y="189.80" width="8.80" height="4.60" fill="#fff" stroke="#0a17a0" stroke-width="1.3"/>
<line x1="325.2" y1="192.1" x2="332.8" y2="192.1" stroke="#7078c0" stroke-width="1.2" />
<text x="339.5" y="195.8" font-size="10.15" font-weight="bold" font-style="normal" text-anchor="start" fill="#10188c" stroke="#10188c" stroke-width="0.2">IC + 1.0 mg/kg Sinococuline</text>
<rect x="507.90" y="190.10" width="9.60" height="5.40" fill="#061590"/>
<text x="522.2" y="196.3" font-size="10.15" font-weight="bold" font-style="normal" text-anchor="start" fill="#10188c" stroke="#10188c" stroke-width="0.2">IC + 2.0 mg/kg Sinococuline</text>
</svg>
</body></html>
